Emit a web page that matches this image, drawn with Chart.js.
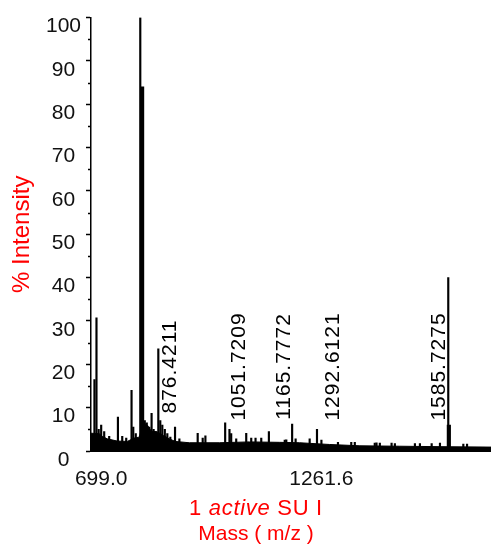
<!DOCTYPE html>
<html>
<head>
<meta charset="utf-8">
<script src="https://cdn.jsdelivr.net/npm/chart.js@4.4.0/dist/chart.umd.min.js"></script>
<style>
  html, body { margin: 0; padding: 0; background: #fff; }
  #wrap { width: 491px; height: 546px; position: relative; }
</style>
</head>
<body>
<div id="wrap"><canvas id="spectrum"></canvas></div>
<script>
// peaks: m/z and % intensity
const peakMz = [
  681.8, 687.0, 692.6, 699.0, 706.7, 719.5, 741.8, 752.8, 763.0, 776.6,
  781.0, 787.4, 798.9, 810.4, 815.5, 821.9, 827.8, 833.0, 838.6, 845.0,
  850.0, 855.2, 861.6, 868.0, 875.7, 887.7, 898.8, 945.6, 958.4, 965.3,
  1015.8, 1026.8, 1031.2, 1044.0, 1069.6, 1082.4, 1093.4, 1108.0, 1127.5, 1168.0,
  1172.0, 1186.9, 1195.8, 1231.7, 1250.4, 1261.7, 1304.0, 1338.0, 1347.0, 1398.0,
  1402.5, 1411.0, 1441.0, 1449.4, 1500.6, 1513.4, 1543.4, 1564.6, 1585.8, 1624.3,
  1633.8
];
const peakInt = [
  16.5, 30.7, 5.0, 6.0, 4.5, 3.4, 7.8, 3.4, 3.0, 14.0,
  5.5, 4.0, 100, 7.0, 6.5, 5.5, 8.7, 5.0, 4.5, 23.6,
  7.0, 6.0, 5.0, 4.0, 3.2, 5.5, 2.8, 4.1, 3.0, 3.5,
  6.5, 5.0, 4.0, 2.8, 4.1, 3.0, 3.0, 3.0, 4.5, 2.5,
  2.6, 6.2, 2.8, 2.8, 5.0, 2.5, 2.0, 2.0, 2.0, 1.8,
  1.9, 1.8, 1.8, 1.7, 1.7, 1.7, 1.7, 1.8, 40, 1.6,
  1.6
];

// wider peaks
const broadMz = [803.6, 1587.3];
const broadInt = [84, 6];

// low level noise under the peaks
const baseMz = [673, 694, 701.6, 714.4, 740, 765.6, 783.5, 796.3, 806.6, 816.8,
  827, 842.4, 858, 873, 888.5, 924.4, 1001, 1078, 1154.8, 1206,
  1283, 1360, 1462, 1564.6, 1695];
const baseInt = [4.1, 4.0, 3.4, 2.8, 2.3, 2.2, 3.0, 3.2, 6.5, 6.0,
  4.6, 4.4, 3.6, 2.8, 2.2, 1.9, 1.9, 2.1, 2.0, 1.9,
  1.5, 1.2, 1.1, 1.0, 0.9];

const labelMz = [876.4211, 1051.7209, 1165.7772, 1292.6121, 1585.7275];
const xTicks = [699.0, 1261.6];
const yTicks = [0, 10, 20, 30, 40, 50, 60, 70, 80, 90, 100];

const FONT = '"Liberation Sans", Arial, sans-serif';
const RED = '#ff0000';

function pts(xs, ys) {
  return xs.map((v, i) => ({ x: v, y: ys[i] }));
}

// peak labels, rotated
const peakLabels = {
  id: 'peakLabels',
  afterDatasetsDraw(chart) {
    const { ctx, scales: { x, y } } = chart;
    const yc = y.getPixelForValue(19.5);
    ctx.save();
    ctx.font = '21px ' + FONT;
    ctx.letterSpacing = '1px';
    ctx.fillStyle = '#000';
    ctx.textAlign = 'center';
    ctx.textBaseline = 'middle';
    labelMz.forEach(m => {
      let px = x.getPixelForValue(m);
      // keep the text off a tall line
      const tall = peakMz.some((p, i) => Math.abs(p - m) < 3 && peakInt[i] > 8);
      if (tall) px -= 9;
      ctx.save();
      ctx.translate(px, yc);
      ctx.rotate(-Math.PI / 2);
      ctx.fillText(m.toFixed(4), 0, 0);
      ctx.restore();
    });
    ctx.restore();
  }
};

// short ticks between the labelled ones
const minorTicks = {
  id: 'minorTicks',
  afterDraw(chart) {
    const { ctx, scales: { y } } = chart;
    ctx.save();
    ctx.strokeStyle = '#000';
    ctx.lineWidth = 1.5;
    for (let i = 0; i < yTicks.length - 1; i++) {
      const py = Math.round(y.getPixelForValue((yTicks[i] + yTicks[i + 1]) / 2)) + 0.5;
      ctx.beginPath();
      ctx.moveTo(y.right - 3, py);
      ctx.lineTo(y.right, py);
      ctx.stroke();
    }
    ctx.restore();
  }
};

// two line x title, one word in italics
const xTitle = {
  id: 'xTitle',
  afterDraw(chart) {
    const ctx = chart.ctx;
    const cx = 256;
    ctx.save();
    ctx.fillStyle = RED;
    ctx.textBaseline = 'middle';
    ctx.textAlign = 'left';
    ctx.letterSpacing = '0.7px';
    const parts = [['1 ', ''], ['active', 'italic '], [' SU I', '']];
    let total = 0;
    parts.forEach(p => {
      ctx.font = p[1] + '22px ' + FONT;
      p.push(ctx.measureText(p[0]).width);
      total += p[2];
    });
    let px = cx - total / 2;
    parts.forEach(p => {
      ctx.font = p[1] + '22px ' + FONT;
      ctx.fillText(p[0], px, 509);
      px += p[2];
    });
    ctx.letterSpacing = '0px';
    ctx.font = '21px ' + FONT;
    ctx.textAlign = 'center';
    ctx.fillText('Mass ( m/z )', cx, 534);
    ctx.restore();
  }
};

const ctx = document.getElementById('spectrum').getContext('2d');

const chart = new Chart(ctx, {
  type: 'bar',
  data: {
    datasets: [{
      data: pts(peakMz, peakInt),
      backgroundColor: '#000',
      barThickness: 1.5,
      grouped: false,
      order: 1
    }, {
      data: pts(broadMz, broadInt),
      backgroundColor: '#000',
      barThickness: 3.5,
      grouped: false,
      order: 1
    }, {
      type: 'line',
      data: pts(baseMz, baseInt),
      borderColor: '#000',
      backgroundColor: '#000',
      borderWidth: 1,
      pointRadius: 0,
      tension: 0,
      fill: 'origin',
      order: 2
    }]
  },
  options: {
    responsive: true,
    maintainAspectRatio: false,
    animation: false,
    layout: { padding: { top: 15, right: 0, left: 0, bottom: 0 } },
    plugins: {
      legend: { display: false },
      tooltip: { enabled: false }
    },
    scales: {
      x: {
        type: 'linear',
        min: 673,
        max: 1695,
        offset: false,
        grid: { display: false, offset: false },
        border: { color: '#000', width: 2 },
        afterBuildTicks: s => { s.ticks = xTicks.map(v => ({ value: v })); },
        afterFit: s => { s.height = 95; },
        ticks: {
          color: '#111',
          font: { family: FONT, size: 21 },
          padding: 8,
          maxRotation: 0,
          callback: v => v.toFixed(1)
        }
      },
      y: {
        min: 0,
        max: 100,
        grid: {
          drawOnChartArea: false,
          tickLength: 5,
          tickColor: '#000',
          tickWidth: 1.5
        },
        border: { color: '#000', width: 1.5 },
        afterBuildTicks: s => { s.ticks = yTicks.map(v => ({ value: v })); },
        afterFit: s => { s.width = 91; },
        ticks: {
          color: '#111',
          font: { family: FONT, size: 21 },
          padding: 5,
          crossAlign: 'center',
          labelOffset: 9
        },
        title: {
          display: true,
          text: '% Intensity',
          color: RED,
          font: { family: FONT, size: 24 },
          padding: { top: 8, bottom: 0 }
        }
      }
    }
  },
  plugins: [peakLabels, minorTicks, xTitle]
});
</script>
</body>
</html>
